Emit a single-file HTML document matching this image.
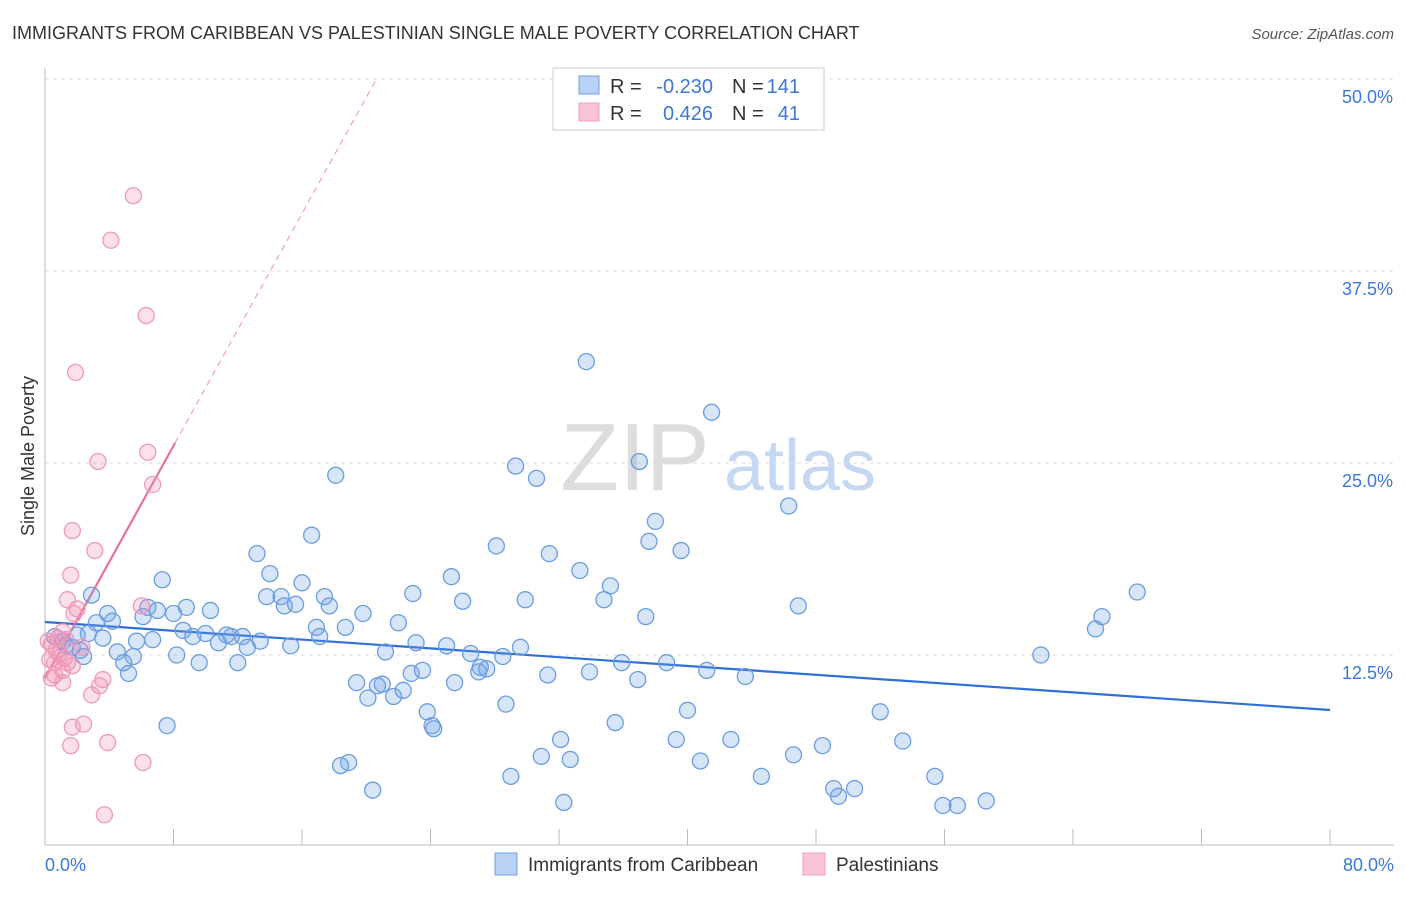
<!DOCTYPE html>
<html><head><meta charset="utf-8"><style>
body{margin:0;background:#fff;font-family:"Liberation Sans",sans-serif}
svg text{font-family:"Liberation Sans",sans-serif}
</style></head><body>
<svg id="chart" width="1406" height="892" viewBox="0 0 1406 892" xmlns="http://www.w3.org/2000/svg">
<text x="12" y="39" font-size="18" fill="#333">IMMIGRANTS FROM CARIBBEAN VS PALESTINIAN SINGLE MALE POVERTY CORRELATION CHART</text>
<text x="1394" y="39" font-size="15" fill="#555" text-anchor="end" font-style="italic">Source: ZipAtlas.com</text>
<g>
<text x="635" y="490" font-size="96" fill="#ddd" text-anchor="middle" font-family="Liberation Serif,serif">ZIP</text>
<text x="800" y="490" font-size="72" fill="#c5d8f2" text-anchor="middle">atlas</text>
</g>
<g id="grid"></g>
<g id="axes"></g>
<text transform="translate(34,456) rotate(-90)" font-size="18" fill="#333" text-anchor="middle">Single Male Poverty</text>
<g id="lines"></g>
<g id="points"></g>
<g>
<rect x="553" y="68" width="271" height="62" fill="#fff" stroke="#ccc"/>
<rect x="579" y="76" width="20" height="18" fill="#b9d1f5" stroke="#6fa0e0"/>
<rect x="579" y="103" width="20" height="18" fill="#f9c5d5" stroke="#f0a0bb"/>
<text x="610" y="93" font-size="20" fill="#333">R =</text>
<text x="713" y="93" font-size="20" fill="#3b78d8" text-anchor="end">-0.230</text>
<text x="732" y="93" font-size="20" fill="#333">N =</text>
<text x="800" y="93" font-size="20" fill="#3b78d8" text-anchor="end">141</text>
<text x="610" y="120" font-size="20" fill="#333">R =</text>
<text x="713" y="120" font-size="20" fill="#3b78d8" text-anchor="end">0.426</text>
<text x="732" y="120" font-size="20" fill="#333">N =</text>
<text x="800" y="120" font-size="20" fill="#3b78d8" text-anchor="end">41</text>
</g>
<g>
<rect x="495" y="853" width="22" height="22" fill="#b9d1f5" stroke="#6fa0e0"/>
<text x="528" y="871" font-size="19" fill="#333">Immigrants from Caribbean</text>
<rect x="803" y="853" width="22" height="22" fill="#f9c5d5" stroke="#f0a0bb"/>
<text x="836" y="871" font-size="19" fill="#333">Palestinians</text>
</g>
</svg>
<script>
const yTicks=[12.5,25,37.5,50];
const yTickLabels=["12.5%","25.0%","37.5%","50.0%"];
const xTickLabels=["0.0%","80.0%"];
const blueX=[33.7,41.5,18.1,29.3,30.6,37.0,46.3,38.0,16.6,28.1,37.6,39.6,31.4,13.2,33.3,14.0,25.3,7.3,16.0,35.2,68.0,2.9,13.8,14.7,17.4,22.9,26.0,29.9,34.8,46.9,65.8,65.4,15.6,14.9,17.7,8.8,6.4,7.0,10.3,8.0,3.9,6.1,4.2,3.2,19.8,22.0,37.4,16.9,18.7,8.6,10.0,11.3,11.6,12.3,13.4,9.2,2.0,2.7,3.6,5.7,6.7,10.8,12.6,15.3,17.1,23.1,25.0,29.6,0.6,1.1,1.3,1.7,2.2,2.4,4.5,5.5,8.2,9.6,12.0,21.2,26.5,28.5,27.1,27.5,27.0,35.9,38.7,41.2,31.3,33.9,43.6,62.0,4.9,5.2,19.4,21.0,20.7,22.3,22.8,23.5,25.5,36.9,20.1,21.7,28.7,40.0,52.0,23.8,24.1,24.2,35.5,7.6,42.7,39.3,48.4,53.4,32.1,30.9,32.7,40.8,46.6,18.9,18.4,29.0,44.6,55.4,20.4,49.1,50.4,49.4,32.3,55.9,56.8,58.6];
const blueY=[31.6,28.3,24.2,24.8,24.0,25.1,22.2,21.2,20.3,19.6,19.9,19.3,19.1,19.1,18.0,17.8,17.6,17.4,17.2,17.0,16.6,16.4,16.3,16.3,16.3,16.5,16.0,16.1,16.1,15.7,15.0,14.2,15.8,15.7,15.7,15.6,15.6,15.4,15.4,15.2,15.2,15.0,14.7,14.6,15.2,14.6,15.0,14.3,14.3,14.1,13.9,13.8,13.7,13.7,13.4,13.7,13.8,13.9,13.6,13.4,13.5,13.3,13.0,13.1,13.7,13.3,13.1,13.0,13.7,13.4,13.1,13.0,12.8,12.4,12.7,12.4,12.5,12.0,12.0,12.7,12.6,12.4,11.7,11.6,11.4,12.0,12.0,11.5,11.2,11.4,11.1,12.5,12.0,11.3,10.7,10.6,10.5,10.2,11.3,11.5,10.7,10.9,9.7,9.8,9.3,8.9,8.8,8.8,7.9,7.7,8.1,7.9,7.0,7.0,6.6,6.9,7.0,5.9,5.7,5.6,6.0,5.5,5.3,4.6,4.6,4.6,3.7,3.8,3.8,3.3,2.9,2.7,2.7,3.0];
const pinkX=[5.5,4.1,6.3,1.9,3.3,6.4,6.7,1.7,3.1,1.6,1.4,2.0,1.8,6.0,1.1,0.8,1.3,0.4,0.7,0.9,1.2,0.3,0.6,1.4,1.7,1.1,0.6,0.4,1.1,3.6,3.4,2.9,2.4,1.7,1.6,3.9,6.1,3.7,2.3,0.2];
const pinkY=[42.4,39.5,34.6,30.9,25.1,25.7,23.6,20.6,19.3,17.7,16.1,15.5,15.2,15.7,14.0,13.6,13.5,13.2,12.8,12.6,12.3,12.2,12.0,12.0,11.8,11.5,11.2,11.0,10.7,10.9,10.5,9.9,8.0,7.8,6.6,6.8,5.5,2.1,13.0,13.4];
const blueTrend=[14.65,8.92];      // y at x=0 and x=80
const pinkTrend=[11.0,1.89];       // intercept, slope

const NS="http://www.w3.org/2000/svg";
const X=v=>45+v*(1285/80);
const Y=v=>847-v*15.36;
function mk(tag,attrs,parent){const e=document.createElementNS(NS,tag);for(const k in attrs)e.setAttribute(k,attrs[k]);parent.appendChild(e);return e;}
const grid=document.getElementById('grid'),axes=document.getElementById('axes'),lines=document.getElementById('lines'),pts=document.getElementById('points');
yTicks.forEach((t,i)=>{
 const l=mk('line',{x1:45,x2:1394,y1:Y(t),y2:Y(t),stroke:'#ddd','stroke-dasharray':'4,4'},grid);
 
 
 const tx=mk('text',{x:1393,y:Y(t)+24,'font-size':18,fill:'#3b78d8','text-anchor':'end'},grid);
 tx.textContent=yTickLabels[i];
 
 
});
let a=mk('line',{x1:45,x2:45,y1:68,y2:845,stroke:'#bbb'},axes);


a=mk('line',{x1:45,x2:1394,y1:845,y2:845,stroke:'#bbb'},axes);


for(let i=1;i<=10;i++){
 const tk=mk('line',{x1:X(i*8),x2:X(i*8),y1:829,y2:845,stroke:'#bbb'},axes);
 
 
}
[[0,'start',45],[80,'end',1394]].forEach((d,i)=>{
 const t=mk('text',{x:d[2],y:871,'font-size':18,fill:'#3b78d8','text-anchor':d[1]},axes);
 t.textContent=xTickLabels[i];
 
 
});
function drawPts(xs,ys,fill,stroke,name){
 xs.forEach((x,i)=>{
  const c=mk('circle',{cx:X(x),cy:Y(ys[i]),r:8,fill:fill,stroke:stroke,'stroke-width':1.3},pts);
  
  
 });
}
drawPts(blueX,blueY,'rgba(110,160,230,0.28)','#6a9de0','caribbean-point');
drawPts(pinkX,pinkY,'rgba(240,140,175,0.28)','#ee9ab8','palestinian-point');
let bl=mk('line',{x1:X(0),y1:Y(blueTrend[0]),x2:X(80),y2:Y(blueTrend[1]),stroke:'#2f6fd6','stroke-width':2.2},lines);


const pe=8.1, pd=20.6;
let pl=mk('line',{x1:X(0),y1:Y(pinkTrend[0]),x2:X(pe),y2:Y(pinkTrend[0]+pinkTrend[1]*pe),stroke:'#e8719a','stroke-width':2.2},lines);


let pdl=mk('line',{x1:X(pe),y1:Y(pinkTrend[0]+pinkTrend[1]*pe),x2:X(pd),y2:Y(pinkTrend[0]+pinkTrend[1]*pd),stroke:'#eea0bb','stroke-width':1.2,'stroke-dasharray':'6,5'},lines);


</script>
</body></html>
